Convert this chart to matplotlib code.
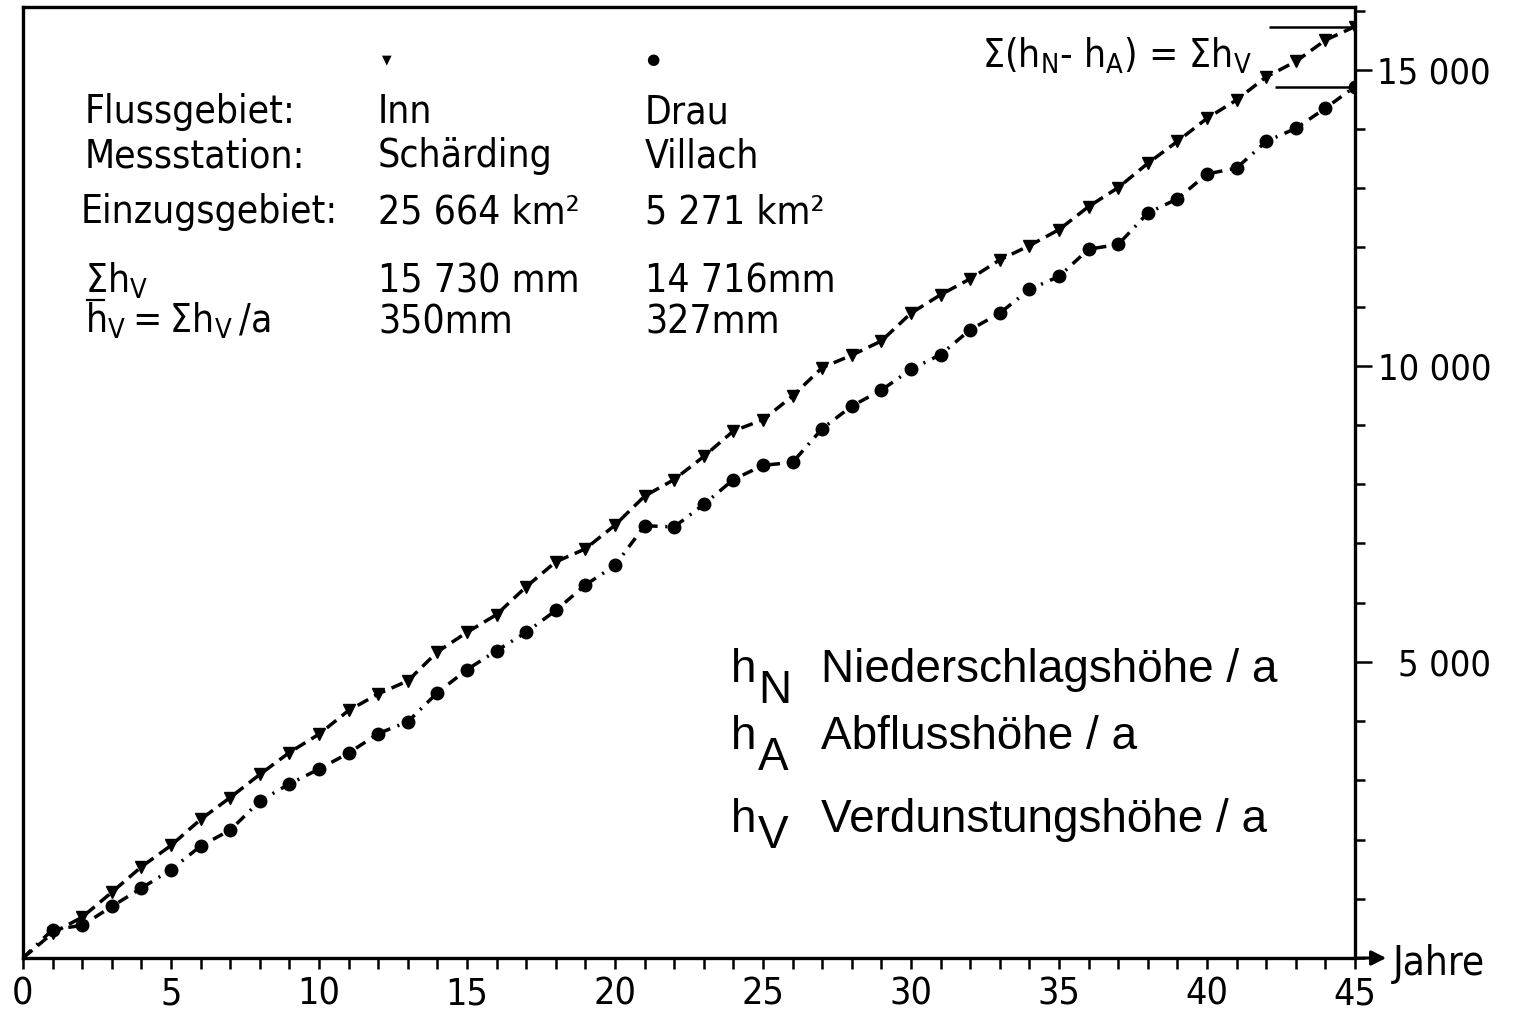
import numpy as np
import matplotlib
matplotlib.use('Agg')
import matplotlib.pyplot as plt
from matplotlib.lines import Line2D
from matplotlib.ticker import MultipleLocator, FixedLocator, FuncFormatter

plt.rcParams['mathtext.default'] = 'regular'

# cumulative evaporation height (mm) per year
years = np.arange(0, 46)
inn = [0, 420, 690, 1110, 1540, 1900, 2340, 2710, 3100, 3470, 3780, 4180, 4460, 4680,
       5170, 5500, 5800, 6270, 6690, 6910, 7310, 7800, 8080, 8470, 8900, 9090, 9490,
       9970, 10180, 10420, 10890, 11200, 11470, 11790, 12030, 12300, 12690, 13010,
       13420, 13790, 14180, 14490, 14880, 15140, 15500, 15730]
drau = [0, 480, 550, 870, 1180, 1490, 1890, 2160, 2650, 2940, 3190, 3460, 3790, 3990,
        4480, 4870, 5190, 5500, 5870, 6300, 6630, 7300, 7280, 7660, 8080, 8320, 8370,
        8940, 9320, 9590, 9940, 10190, 10610, 10890, 11290, 11510, 11970, 12050, 12580,
        12820, 13240, 13340, 13790, 14010, 14350, 14716]

x_major = [0, 5, 10, 15, 20, 25, 30, 35, 40, 45]
y_major = [5000, 10000, 15000]

W, H = 1514, 1018
fig = plt.figure(figsize=(W / 100, H / 100), dpi=100)
ax = fig.add_axes([23 / W, 1 - 958 / H, 1332 / W, 951 / H])


def px(x, y):
    return x / W, 1 - y / H


ax.plot(years, inn, color='black', lw=2.5, linestyle=(0, (3.5, 2)),
        marker='v', markersize=8.5, markevery=slice(1, None))
ax.plot(years, drau, color='black', lw=2.5, linestyle=(0, (3.2, 2.2, 0.6, 2.2)),
        marker='o', markersize=9, markevery=slice(1, None))

# end marks for the sums
ax.hlines(inn[-1], 42.1, 45, color='black', lw=1.8)
ax.hlines(drau[-1], 42.3, 44.8, color='black', lw=1.8)

ax.set_xlim(0, 45)
ax.set_ylim(0, 16060)

for s in ax.spines.values():
    s.set_linewidth(2.4)

ax.xaxis.set_major_locator(FixedLocator(x_major))
ax.xaxis.set_minor_locator(MultipleLocator(1))
ax.yaxis.tick_right()
ax.yaxis.set_major_locator(FixedLocator(y_major))
ax.yaxis.set_minor_locator(MultipleLocator(1000))
ax.yaxis.set_major_formatter(FuncFormatter(lambda v, p: f'{v:,.0f}'.replace(',', ' ')))

cond = dict(family='DejaVu Sans', stretch='condensed')
ax.tick_params(axis='x', which='both', direction='out', length=8, width=1.8,
               labelsize=27, pad=5)
ax.tick_params(axis='y', which='major', direction='out', length=12, width=1.8,
               labelsize=26, pad=86)
ax.tick_params(axis='y', which='minor', direction='out', length=7, width=1.8)
for lab in ax.get_yticklabels():
    lab.set_horizontalalignment('right')
    lab.set_fontstretch('condensed')
for lab in ax.get_xticklabels():
    lab.set_fontstretch('condensed')

# x axis arrow and label
ax.annotate('', xy=(1 + 34 / 1332, 0), xytext=(1, 0), xycoords='axes fraction',
            arrowprops=dict(arrowstyle='-|>', lw=2.2, color='black', mutation_scale=22),
            annotation_clip=False)
fig.text(*px(1393, 975), 'Jahre', fontsize=29, va='baseline', **cond)

# info table
fs = 28
fig.text(*px(387, 60), '▼', fontsize=9, ha='center', va='center')
fig.text(*px(653, 60), '●', fontsize=11, ha='center', va='center')
rows = [
    (85, 123, 'Flussgebiet:', 'Inn', 'Drau'),
    (85, 167, 'Messstation:', 'Schärding', 'Villach'),
    (81, 223, 'Einzugsgebiet:', '25 664 km²', '5 271 km²'),
    (85, 293, r'$\Sigma h_V$', '15 730 mm', '14 716mm'),
    (85, 333, r'$h_V = \Sigma h_V\,/a$', '350mm', '327mm'),
]
for x0, yb, lab, c1, c2 in rows:
    fig.text(*px(x0, yb), lab, fontsize=fs, va='baseline', **cond)
    fig.text(*px(378, yb), c1, fontsize=fs, va='baseline', **cond)
    fig.text(*px(645, yb), c2, fontsize=fs, va='baseline', **cond)
# bar over the mean h
fig.add_artist(Line2D([87 / W, 104 / W], [1 - 300 / H, 1 - 300 / H],
                      color='black', lw=1.6))

fig.text(*px(1252, 68), r'Σ($h_N$- $h_A$) = Σ$h_V$', fontsize=28,
         ha='right', va='baseline', **cond)

# symbol legend
lf = dict(fontsize=33, va='baseline', family='Liberation Sans')
sym = [('h', 'N', 'Niederschlagshöhe / a', 682, 703),
       ('h', 'A', 'Abflusshöhe / a', 749, 770),
       ('h', 'V', 'Verdunstungshöhe / a', 832, 848)]
for h, sub, txt, yb, ys in sym:
    fig.text(*px(731, yb), h, **lf)
    fig.text(*px(758, ys), sub, **lf)
    fig.text(*px(821, yb), txt, **lf)

fig.savefig('out.png', dpi=100, facecolor='white')
